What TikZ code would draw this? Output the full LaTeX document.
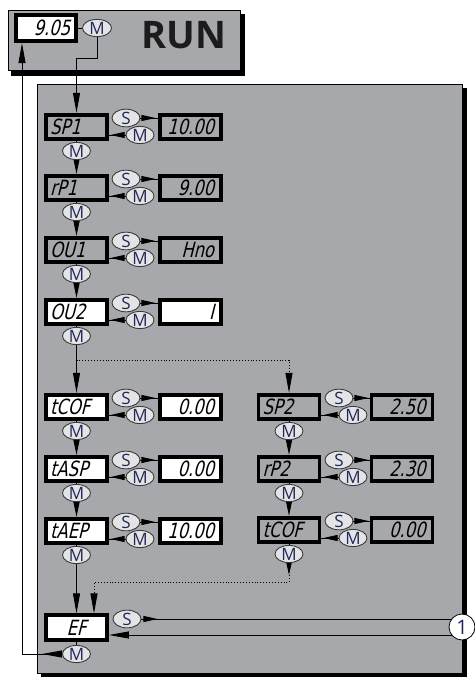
\documentclass[tikz,border=0pt]{standalone}
\usepackage{fontspec}
\setmainfont{Open Sans}
\newfontfamily\seg[FakeStretch=0.78,FakeSlant=0.25]{DejaVu Sans}
\newfontfamily\keyf{Open Sans}
\usetikzlibrary{shapes.geometric,arrows.meta}
\definecolor{panel}{HTML}{A7A8AC}
\definecolor{keyfill}{HTML}{E4E4E6}
\definecolor{keyline}{HTML}{3A3A3A}
\definecolor{keytext}{HTML}{1E2A55}
\definecolor{runtext}{HTML}{1C1C1C}
\pgfdeclarelayer{back}\pgfdeclarelayer{edges}
\pgfsetlayers{back,edges,main}
\tikzset{
  disp/.style={draw=black,line width=3.8pt,minimum height=24.5pt,inner ysep=0pt,font=\seg\fontsize{21}{21}\selectfont},
  parambox/.style={disp,inner xsep=4pt,text width=53pt,align=left},
  valuebox/.style={disp,inner xsep=7pt,text width=47pt,align=right},
  key/.style={ellipse,draw=keyline,fill=keyfill,line width=0.9pt,minimum width=28pt,minimum height=15pt,inner sep=0pt,text=keytext,font=\keyf\fontsize{17}{17}\selectfont},
  wire/.style={line width=0.9pt},
  shorttip/.style={-{Triangle[length=14pt,width=6pt]}},
  downtip/.style={-{Triangle[length=16pt,width=6.5pt]}},
  longtip/.style={-{Triangle[length=20pt,width=7pt]}}
}
\begin{document}
\begin{tikzpicture}[x=1pt,y=-1pt]
\useasboundingbox (0,0) rectangle (474,677);
% panels
\begin{pgfonlayer}{back}
\fill[black] (11,14) rectangle (245,76);
\draw[fill=panel,line width=0.6pt] (8,10) rectangle (240,70);
\fill[black] (41,88) rectangle (467,677);
\draw[fill=panel,line width=0.8pt] (37,84) rectangle (462,673);
\end{pgfonlayer}
% run header
\node[disp,fill=white,line width=4.2pt,minimum height=26pt,inner xsep=6pt,text width=48pt,align=right] (run) at (46,28) {9.05};
\node[key,minimum width=29pt,minimum height=16pt] (mrun) at (97,28) {M};
\node[font=\bfseries\fontsize{38}{38}\selectfont,text=runtext] (runlbl) at (184,35) {RUN};
% column 1
\foreach \n/\p/\v/\y/\f in {a/SP1/10.00/127/panel,b/rP1/9.00/188/panel,c/OU1/Hno/250/panel,d/OU2/I/312/white,e/tCOF/0.00/407/white,f/tASP/0.00/469/white,g/tAEP/10.00/531/white}{
  \node[parambox,fill=\f] (p\n) at (76.5,\y) {\p};
  \node[valuebox,fill=\f] (v\n) at (190.5,\y) {\v};
  \node[key] (s\n) at (126,\y-9) {S};
  \node[key] (m\n) at (140,\y+8) {M};
  \node[key] (k\n) at (76.5,\y+24) {M};
}
% column 2
\foreach \n/\p/\v/\y in {1/SP2/2.50/407,2/rP2/2.30/469,3/tCOF/0.00/530}{
  \node[parambox,fill=panel] (q\n) at (289,\y) {\p};
  \node[valuebox,fill=panel] (w\n) at (402,\y) {\v};
  \node[key] (t\n) at (339,\y-9) {S};
  \node[key] (u\n) at (353,\y+8) {M};
  \node[key] (r\n) at (289,\y+24) {M};
}
% EF
\node[disp,fill=white,inner xsep=4pt,text width=53pt,align=center] (ef) at (76.5,627.5) {EF};
\node[key] (sef) at (127,619) {S};
\node[key] (mef) at (76.5,654) {M};
\node[circle,draw=black,fill=white,line width=0.8pt,minimum size=26pt,inner sep=0pt,text=keytext,font=\keyf\fontsize{20}{20}\selectfont] (c1) at (462,627) {1};
% coordinates
\coordinate (j8) at (76.5,58);
\coordinate (j1) at (76.5,360);
\coordinate (j2) at (289,360);
\coordinate (j3) at (289,575);
\coordinate (j4) at (289,582);
\coordinate (j5) at (94,582);
\coordinate (rt) at (456,635);
\coordinate (j7) at (22,654);
% connectors
\begin{pgfonlayer}{edges}
\draw[wire] (run.east) -- (mrun.west);
\draw[wire,longtip] (mrun.south) -- (mrun.south |- j8) -- (j8) -- (pa.north);
\foreach \n in {a,b,c,d,e,f,g}{
  \draw[wire] (p\n.south) -- (k\n.north);
  \draw[wire,shorttip] (s\n.east) -- ++(15,0);
  \draw[wire] (s\n.east) -- (v\n.west |- s\n.east);
  \draw[wire,shorttip] (m\n.west) -- ++(-15,0);
  \draw[wire] (m\n.west) -- (p\n.east |- m\n.west);
}
\foreach \n in {1,2,3}{
  \draw[wire] (q\n.south) -- (r\n.north);
  \draw[wire,shorttip] (t\n.east) -- ++(15,0);
  \draw[wire] (t\n.east) -- (w\n.west |- t\n.east);
  \draw[wire,shorttip] (u\n.west) -- ++(-15,0);
  \draw[wire] (u\n.west) -- (q\n.east |- u\n.west);
}
\draw[wire,downtip] (ka.south) -- (pb.north);
\draw[wire,downtip] (kb.south) -- (pc.north);
\draw[wire,downtip] (kc.south) -- (pd.north);
\draw[wire,longtip] (kd.south) -- (pe.north);
\draw[wire,downtip] (ke.south) -- (pf.north);
\draw[wire,downtip] (kf.south) -- (pg.north);
\draw[wire,longtip] (kg.south) -- (ef.north);
\draw[wire,downtip] (r1.south) -- (q2.north);
\draw[wire,downtip] (r2.south) -- (q3.north);
\draw[wire,dotted,longtip] (j1) -- (j2) -- (q1.north);
\draw[wire,shorttip] (r3.south) -- (j3);
\draw[wire,dotted,longtip] (j3) -- (j4) -- (j5) -- (j5 |- ef.north);
\draw[wire,shorttip] (sef.east) -- ++(16,0);
\draw[wire] (sef.east) -- (c1.center |- sef.east);
\draw[wire,longtip] (rt) -- (ef.east |- rt);
\draw[wire] (ef.south) -- (mef.north);
\draw[wire,longtip] (mef.west) -- ++(-20,0);
\draw[wire,longtip] (mef.west) -- (j7) -- (j7 |- run.south);
\end{pgfonlayer}
\end{tikzpicture}
\end{document}
